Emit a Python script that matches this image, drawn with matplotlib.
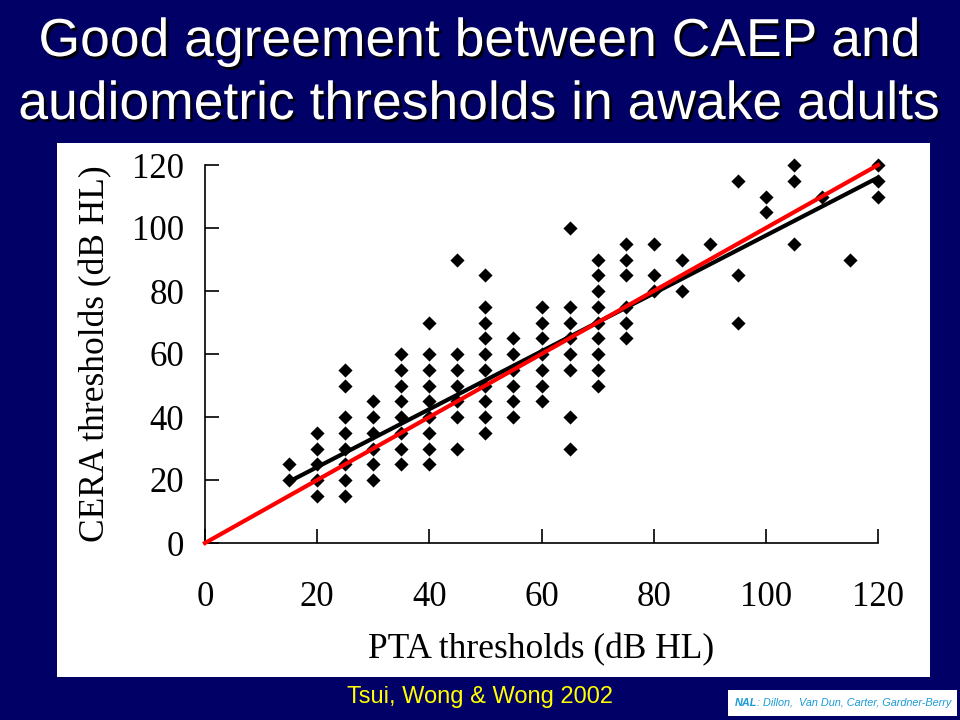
import matplotlib.pyplot as plt
import matplotlib.patheffects as pe
import numpy as np

# PTA threshold (x) and the CERA thresholds seen at that PTA value (y)
pta_levels = [15, 20, 25, 30, 35, 40, 45, 50, 55, 60, 65, 70,
              75, 80, 85, 90, 95, 100, 105, 110, 115, 120]
cera_by_pta = [
    [25, 20],
    [35, 30, 25, 20, 15],
    [55, 50, 40, 35, 30, 25, 20, 15],
    [45, 40, 35, 30, 25, 20],
    [60, 55, 50, 45, 40, 35, 30, 25],
    [70, 60, 55, 50, 45, 40, 35, 30, 25],
    [90, 60, 55, 50, 45, 40, 30],
    [85, 75, 70, 65, 60, 55, 50, 45, 40, 35],
    [65, 60, 55, 50, 45, 40],
    [75, 70, 65, 60, 55, 50, 45],
    [100, 75, 70, 65, 60, 55, 40, 30],
    [90, 85, 80, 75, 70, 65, 60, 55, 50],
    [95, 90, 85, 75, 70, 65],
    [95, 85, 80],
    [90, 80],
    [95],
    [115, 85, 70],
    [110, 105],
    [120, 115, 95],
    [110],
    [90],
    [120, 115, 110],
]

# regression line ends and the identity line
fit_x = [15, 120]
fit_y = [19.5, 116]
ident_x = [0, 120]
ident_y = [0, 120]

ticks = [0, 20, 40, 60, 80, 100, 120]

navy = '#000066'
W, H = 960, 720

xs = []
ys = []
for p, col in zip(pta_levels, cera_by_pta):
    for c in col:
        xs.append(p)
        ys.append(c)

fig = plt.figure(figsize=(9.6, 7.2), dpi=100, facecolor=navy)

# white panel behind the scanned figure
panel = fig.add_axes([57/W, 1-677/H, (930-57)/W, (677-143)/H], zorder=0)
panel.set_facecolor('white')
panel.set_xticks([])
panel.set_yticks([])
for s in panel.spines.values():
    s.set_visible(False)

# title with a dark drop shadow
title_lines = ["Good agreement between CAEP and",
               "audiometric thresholds in awake adults"]
baselines = [56, 119]
shadow = [pe.SimplePatchShadow(offset=(2, -2), shadow_rgbFace='black', alpha=0.9),
          pe.Normal()]
for line, yb in zip(title_lines, baselines):
    fig.text(0.5, 1 - yb/H, line, ha='center', va='baseline', color='white',
             fontsize=38.5, family='Liberation Sans', path_effects=shadow)

ax = fig.add_axes([205/W, 1-543/H, (878-205)/W, (543-165)/H], zorder=2)
ax.set_facecolor('none')
ax.scatter(xs, ys, marker='D', s=52, color='black', linewidths=0, zorder=3,
           clip_on=False)
ax.plot(fit_x, fit_y, color='black', lw=3, zorder=4, clip_on=False)
ax.plot(ident_x, ident_y, color='#ff0000', lw=3, zorder=5, clip_on=False)

ax.set_xlim(0, 120)
ax.set_ylim(0, 120)
ax.set_xticks(ticks)
ax.set_yticks(ticks)
for s in ['top', 'right']:
    ax.spines[s].set_visible(False)
for s in ['left', 'bottom']:
    ax.spines[s].set_linewidth(1.2)
ax.tick_params(direction='in', length=10, width=1.2, labelsize=25)
ax.tick_params(axis='x', pad=27)
ax.tick_params(axis='y', pad=15)
for lab in ax.get_xticklabels() + ax.get_yticklabels():
    lab.set_family('Liberation Serif')
ax.set_xlabel('PTA thresholds (dB HL)', family='Liberation Serif',
              fontsize=25.5, labelpad=14)
ax.set_ylabel('CERA thresholds (dB HL)', family='Liberation Serif',
              fontsize=25.5, labelpad=14)

fig.text(480/W, 1-697/H, 'Tsui, Wong & Wong 2002', ha='center', va='center',
         color='yellow', fontsize=17, family='Liberation Sans')

# credit box, bottom right
credit = fig.add_axes([728/W, 1-716/H, (957-728)/W, 26/H], zorder=1)
credit.set_facecolor('white')
credit.set_xticks([])
credit.set_yticks([])
for s in credit.spines.values():
    s.set_visible(False)
nal = credit.text(0.03, 0.5, 'NAL', ha='left', va='center', color='#1a9ad6',
                  fontsize=7.8, family='Liberation Sans', style='italic',
                  weight='bold', transform=credit.transAxes)
credit.annotate(': Dillon,  Van Dun, Carter, Gardner-Berry', xy=(1, 0.5),
                xycoords=nal, ha='left', va='center', color='#1a9ad6',
                fontsize=7.8, family='Liberation Sans', style='italic')

fig.savefig('out.png', dpi=100, facecolor=navy)
